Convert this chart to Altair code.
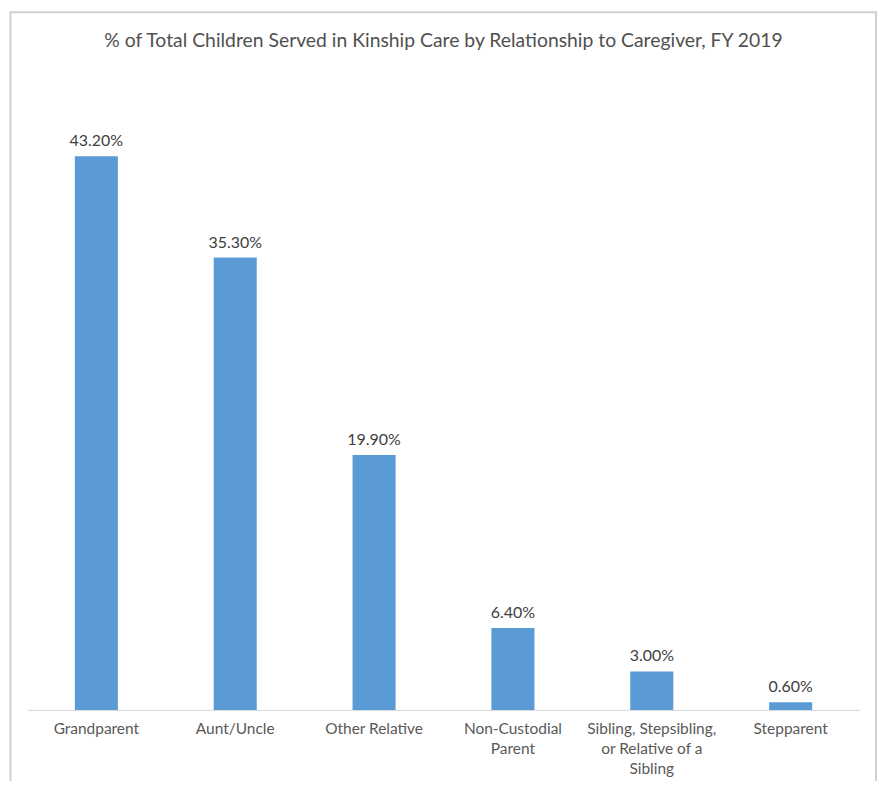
import altair as alt
import pandas as pd

categories = ["Grandparent", "Aunt/Uncle", "Other Relative", "Non-Custodial\nParent",
              "Sibling, Stepsibling,\nor Relative of a\nSibling", "Stepparent"]
values = [43.2, 35.3, 19.9, 6.4, 3.0, 0.6]
labels = ["43.20%", "35.30%", "19.90%", "6.40%", "3.00%", "0.60%"]

df = pd.DataFrame({"cat": categories, "val": values, "lab": labels})

FONT = "Lato"

x = alt.X("cat:N", sort=categories, title=None,
          scale=alt.Scale(paddingInner=0.69, paddingOuter=0.345),
          axis=alt.Axis(labelAngle=0, ticks=False, domainColor="#d9d9d9", domainWidth=1,
                        labelFont=FONT, labelFontSize=15.5, labelColor="#595959",
                        labelPadding=12, labelLineHeight=20, labelBaseline="top",
                        labelLimit=300, labelExpr="split(datum.label, '\\n')"))
y = alt.Y("val:Q", title=None, scale=alt.Scale(domain=[0, 50], nice=False), axis=None)

bars = alt.Chart(df).mark_bar(color="#5b9bd5").encode(x=x, y=y)
text = alt.Chart(df).mark_text(dy=-7, baseline="bottom", font=FONT, fontSize=16,
                               color="#404040").encode(x=x, y=y, text="lab:N")

border_df = pd.DataFrame({"k": [0]})
left = alt.Chart(border_df).mark_rule(color="#d0d0d0", strokeWidth=2).encode(
    x=alt.value(-16.5), y=alt.value(-57), y2=alt.value(720))
right = alt.Chart(border_df).mark_rule(color="#d0d0d0", strokeWidth=2).encode(
    x=alt.value(852), y=alt.value(-57), y2=alt.value(720))
top = alt.Chart(border_df).mark_rule(color="#d0d0d0", strokeWidth=2).encode(
    x=alt.value(-17.5), x2=alt.value(853), y=alt.value(-57))

chart = alt.layer(bars, text, left, right, top).properties(
    width=836, height=643,
    autosize=alt.AutoSizeParams(type="none"),
    padding={"left": 19, "right": 17, "top": 60, "bottom": 70},
    title=alt.TitleParams(
        "% of Total Children Served in Kinship Care by Relationship to Caregiver, FY 2019",
        font=FONT, fontSize=19.4, fontWeight="normal", color="#505050",
        anchor="middle", baseline="alphabetic", offset=-55),
).configure_view(stroke=None)

chart.save("out.html", embed_options={"renderer": "svg", "actions": False})
